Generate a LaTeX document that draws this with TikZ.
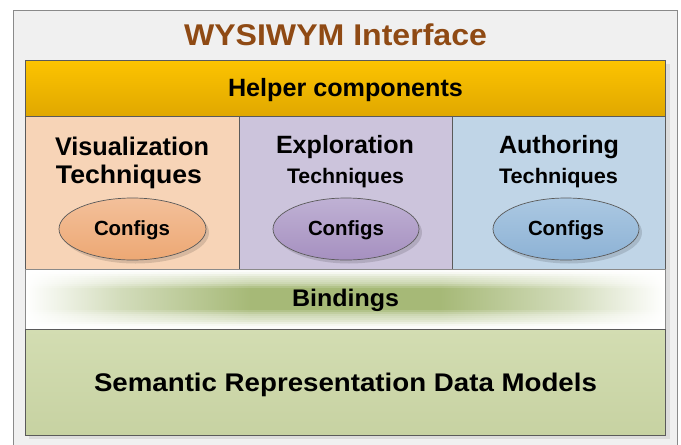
\documentclass[tikz,border=0pt]{standalone}
\usepackage{fontspec}
\setmainfont{Liberation Sans}
\definecolor{outerbg}{HTML}{F0F0F0}
\definecolor{outerline}{HTML}{8A8A8A}
\definecolor{titlec}{HTML}{8F4A14}
\definecolor{helpT}{HTML}{FDC400}
\definecolor{helpB}{HTML}{E0A800}
\definecolor{boxline}{HTML}{5A5A5A}
\definecolor{colA}{HTML}{F7D4B7}
\definecolor{colB}{HTML}{CCC4DC}
\definecolor{colC}{HTML}{C0D5E7}
\definecolor{ellAT}{HTML}{F3C09A}
\definecolor{ellAB}{HTML}{EDA874}
\definecolor{ellBT}{HTML}{BFB1D4}
\definecolor{ellBB}{HTML}{A690C0}
\definecolor{ellCT}{HTML}{ABC8E2}
\definecolor{ellCB}{HTML}{8DB2D5}
\definecolor{bindg}{HTML}{A6B977}
\definecolor{semT}{HTML}{D3DDB2}
\definecolor{semB}{HTML}{C7D2A2}
\definecolor{shadowc}{HTML}{DCDCDC}
\newsavebox\fitbox
\newcommand\fitw[3]{%
  \sbox\fitbox{\fontsize{#2}{#2}\selectfont\bfseries #3}%
  \scalebox{\fpeval{#1/(\the\wd\fitbox)}}[1]{\usebox\fitbox}}
\begin{document}
\begin{tikzpicture}[x=1pt,y=-1pt,
  txt/.style={inner sep=0pt, anchor=base},
  layerbox/.style={draw=boxline, line width=0.9pt},
  cfgell/.style={draw=boxline, line width=0.7pt},
  ellshadow/.style={fill=black, opacity=0.13}]
\useasboundingbox (0,0) rectangle (681,445);
% outer frame
\path[fill=outerbg, draw=outerline, line width=1.2pt] (13.5,10.5) rectangle (677.5,452);
% stack shadow
\fill[shadowc] (29,64) rectangle (669.5,438.5);
% helper bar
\shade[top color=helpT, bottom color=helpB, layerbox] (25,60) rectangle (665.5,116);
% columns
\path[fill=colA, layerbox] (25,116) rectangle (239,269);
\path[fill=colB, layerbox] (239,116) rectangle (452,269);
\path[fill=colC, layerbox] (452,116) rectangle (665.5,269);
% ellipses
\fill[ellshadow] (135.5,232.5) ellipse [x radius=73.5, y radius=31];
\fill[ellshadow] (349,232.5) ellipse [x radius=73, y radius=31];
\fill[ellshadow] (569,232.5) ellipse [x radius=73, y radius=31];
\shade[top color=ellAT, bottom color=ellAB, cfgell] (132.5,229) ellipse [x radius=73.5, y radius=31];
\shade[top color=ellBT, bottom color=ellBB, cfgell] (346,229) ellipse [x radius=73, y radius=31];
\shade[top color=ellCT, bottom color=ellCB, cfgell] (566,229) ellipse [x radius=73, y radius=31];
% bindings
\fill[white!97!bindg] (25,269) rectangle (665.5,329);
\foreach \yy/\vv in {270/4, 272/10, 274/22, 276/34, 278/42, 280/48, 282/56, 284/70, 286/86,
                     288/100, 290/100, 292/100, 294/100, 296/100, 298/100, 300/100, 302/100,
                     304/100, 306/100, 308/100,
                     310/86, 312/70, 314/56, 316/48, 318/42, 320/34, 322/22, 324/10, 326/4}{
  \pgfmathsetmacro\vh{0.5*\vv}
  \shade[left color=white, right color=bindg!\vh!white] (25,\yy) rectangle (120.5,\yy+2.6);
  \shade[left color=bindg!\vh!white, right color=bindg!\vv!white] (120,\yy) rectangle (250.5,\yy+2.6);
  \fill[bindg!\vv!white] (250,\yy) rectangle (440.5,\yy+2.6);
  \shade[left color=bindg!\vv!white, right color=bindg!\vh!white] (440,\yy) rectangle (570.5,\yy+2.6);
  \shade[left color=bindg!\vh!white, right color=white] (570,\yy) rectangle (665.5,\yy+2.6);
}
\draw[layerbox, draw=outerline] (25,269) rectangle (665.5,329);
% semantic data models
\shade[top color=semT, bottom color=semB, layerbox] (25,329) rectangle (665.5,435);
% texts
\node[txt, text=titlec] (title) at (335.5,45.7) {\fitw{303}{30}{WYSIWYM Interface}};
\node[txt] (helper) at (345.5,96.5) {\fitw{235}{25}{Helper components}};
\node[txt] (vis1) at (132,155) {\fitw{154}{25.5}{Visualization}};
\node[txt] (vis2) at (129,183) {\fitw{146}{25.5}{Techniques}};
\node[txt] (exp1) at (345,153) {\fitw{138}{25}{Exploration}};
\node[txt] (exp2) at (345.5,183) {\fitw{117}{21}{Techniques}};
\node[txt] (aut1) at (559,153) {\fitw{120}{25}{Authoring}};
\node[txt] (aut2) at (558.5,183) {\fitw{119}{21}{Techniques}};
\node[txt] (cfgA) at (132,235) {\fitw{76}{20.5}{Configs}};
\node[txt] (cfgB) at (346,235) {\fitw{76}{20.5}{Configs}};
\node[txt] (cfgC) at (566,235) {\fitw{76}{20.5}{Configs}};
\node[txt] (bind) at (345.5,306.5) {\fitw{107}{24}{Bindings}};
\node[txt] (sem) at (345.5,391) {\fitw{503}{25.5}{Semantic Representation Data Models}};
\end{tikzpicture}
\end{document}
